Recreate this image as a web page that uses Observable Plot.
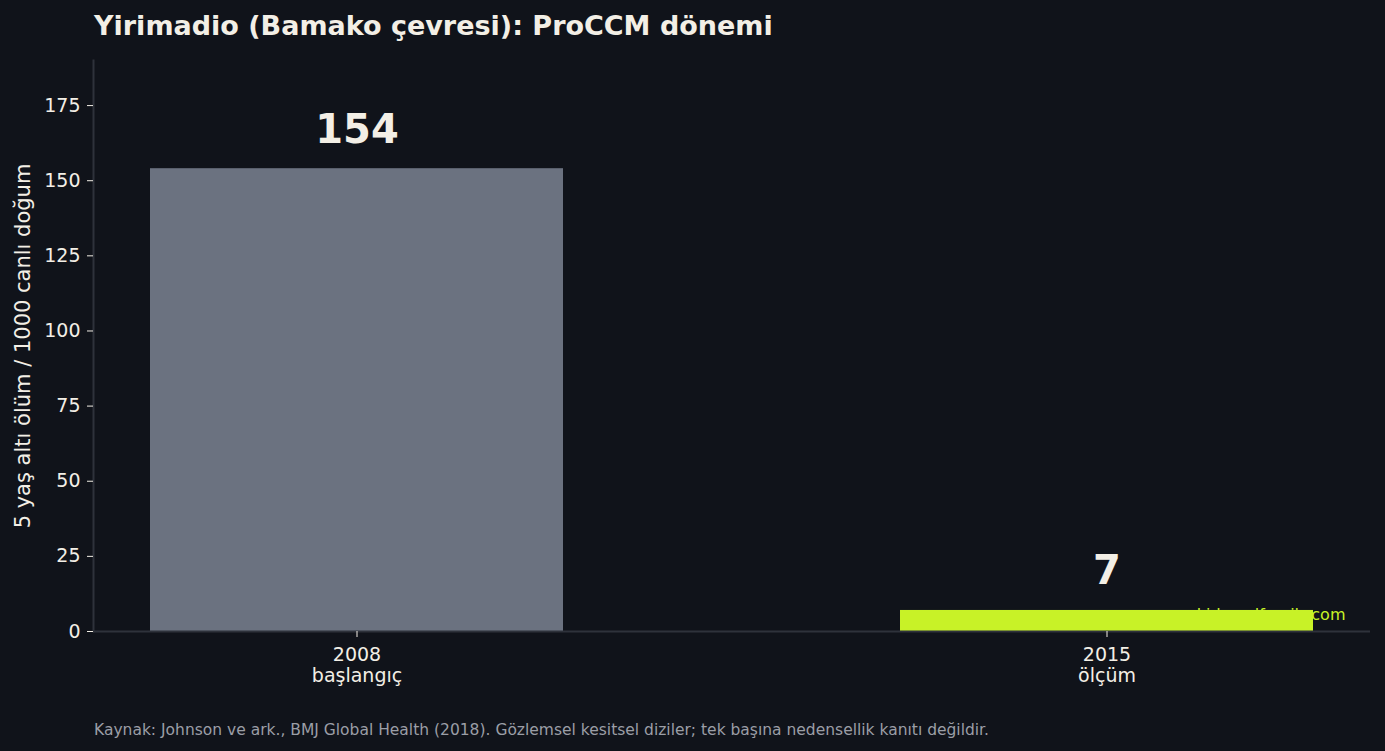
<!DOCTYPE html>
<html><head><meta charset="utf-8">
<script src="https://cdn.jsdelivr.net/npm/d3@7"></script>
<script src="https://cdn.jsdelivr.net/npm/@observablehq/plot@0.6"></script>
<style>
body{margin:0;background:#10131a;width:1385px;height:751px;overflow:hidden;font-family:"DejaVu Sans",sans-serif;}
#title{height:50px;line-height:52px;padding-left:94px;color:#f3efe6;font-weight:bold;font-size:27px;}
#caption{padding-left:94px;color:#9b9ea6;font-size:15.5px;padding-top:21px;}
</style></head><body>
<div id="title">Yirimadio (Bamako çevresi): ProCCM dönemi</div>
<div id="chart"></div>
<div id="caption">Kaynak: Johnson ve ark., BMJ Global Health (2018). Gözlemsel kesitsel diziler; tek başına nedensellik kanıtı değildir.</div>
<script>
const years = ["2008", "2015"];
const phases = ["başlangıç", "ölçüm"];
const values = [154, 7];
const colors = ["#6b7280", "#c8f227"];
const yTicks = [0, 25, 50, 75, 100, 125, 150, 175];
const yLabel = "5 yaş altı ölüm / 1000 canlı doğum";
const watermark = "www.kidsandfamily.com";

const data = years.map((y, i) => ({year: y, phase: phases[i], value: values[i]}));
const phaseOf = d => phases[years.indexOf(d)];

const plot = Plot.plot({
  width: 1385, height: 650,
  marginLeft: 93, marginRight: 15, marginTop: 10, marginBottom: 69,
  style: {background: "transparent", color: "#f3efe6", fontFamily: "DejaVu Sans", fontSize: "19px"},
  x: {domain: years, paddingInner: 0.45, paddingOuter: 0.076, align: 0.5, label: null},
  y: {domain: [0, 190], label: null},
  color: {domain: years, range: colors},
  marks: [
    Plot.text([watermark], {frameAnchor: "bottom-right", dx: -25, dy: -12, textAnchor: "end", fill: "#c8f227", fontSize: 16}),
    Plot.barY(data, {x: "year", y: "value", fill: "year"}),
    Plot.ruleY([0], {stroke: "#2e323b", strokeWidth: 2}),
    Plot.frame({anchor: "left", stroke: "#2e323b", strokeWidth: 2}),
    Plot.axisX({tickSize: 6, tickPadding: 8, tickFormat: d => d + "\n" + phaseOf(d), fontSize: 19, lineHeight: 1.12, label: null, stroke: "#f3efe6"}),
    Plot.axisY({ticks: yTicks, tickSize: 6, tickPadding: 7, fontSize: 19, label: null, stroke: "#f3efe6"}),
    Plot.text([yLabel], {frameAnchor: "left", textAnchor: "middle", rotate: -90, dx: -70, fontSize: 21, fill: "#f3efe6"}),
    Plot.text(data, {x: "year", y: "value", text: d => String(d.value), dy: -39, fontSize: 40, fontWeight: "bold", fill: "#f3efe6"})
  ]
});
document.getElementById("chart").appendChild(plot);
</script>
</body></html>
